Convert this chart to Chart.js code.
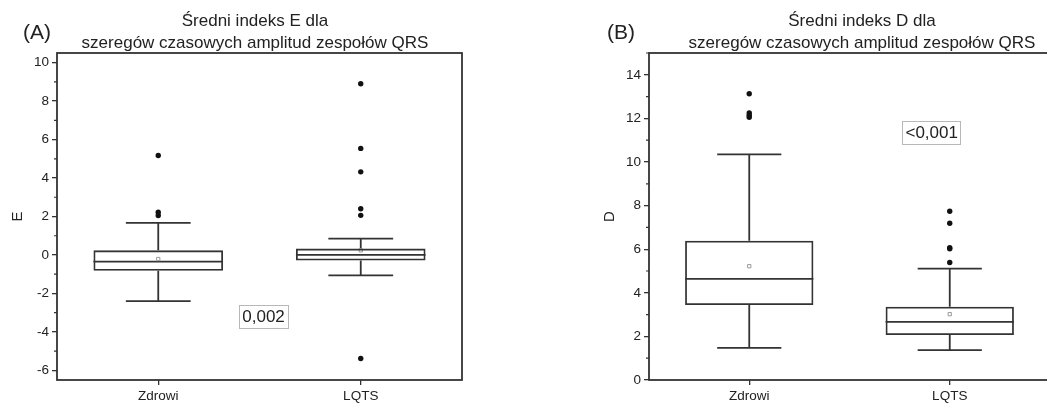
<!DOCTYPE html>
<html>
<head>
<meta charset="utf-8">
<script src="https://cdn.jsdelivr.net/npm/chart.js@4.4.1/dist/chart.umd.min.js"></script>
<style>
html, body { margin: 0; padding: 0; background: #fff; overflow: hidden; }
body { width: 1047px; height: 404px; position: relative; font-family: "Liberation Sans", Arial, sans-serif; color: #222; }
canvas { position: absolute; top: 0; }
#chartA { left: 0; }
#chartB { left: 540px; }
.tag { position: absolute; font-size: 21px; line-height: 21px; }
.title { position: absolute; top: 10px; width: 520px; text-align: center; font-size: 17px; line-height: 22px; }
</style>
</head>
<body>
<canvas id="chartA" width="470" height="404"></canvas>
<canvas id="chartB" width="520" height="404"></canvas>
<div class="tag" style="left:23px; top:21px">(A)</div>
<div class="tag" style="left:607px; top:21px">(B)</div>
<div class="title" style="left:-5px">Średni indeks E dla<br>szeregów czasowych amplitud zespołów QRS</div>
<div class="title" style="left:602px">Średni indeks D dla<br>szeregów czasowych amplitud zespołów QRS</div>
<script>
const groups = ['Zdrowi', 'LQTS'];

// panel A - indeks E
const eQ1 = [-0.82, -0.29];
const eQ3 = [0.24, 0.33];
const eMedian = [-0.35, 0.0];
const eLow = [-2.4, -1.06];
const eHigh = [1.67, 0.85];
const eMean = [-0.21, 0.24];
const eOutZdrowi = [5.17, 2.22, 2.05];
const eOutLqts = [8.9, 5.54, 4.32, 2.4, 2.06, -5.38];

// panel B - indeks D
const dQ1 = [3.44, 2.06];
const dQ3 = [6.39, 3.36];
const dMedian = [4.64, 2.67];
const dLow = [1.47, 1.37];
const dHigh = [10.35, 5.11];
const dMean = [5.22, 3.02];
const dOutZdrowi = [13.13, 12.25, 12.15, 12.05];
const dOutLqts = [7.74, 7.19, 6.07, 6.02, 5.39];

Chart.defaults.font.family = '"Liberation Sans", Arial, sans-serif';
Chart.defaults.color = '#222';
const ink = '#333';

function boxParts(s) {
    return {
        id: 'boxParts',
        beforeDatasetsDraw(chart) {
            const {ctx, scales: {x, y}} = chart;
            const bars = chart.getDatasetMeta(0).data;
            ctx.save();
            ctx.strokeStyle = ink;
            ctx.lineWidth = 1.8;
            groups.forEach((g, i) => {
                const cx = x.getPixelForValue(i);
                const hw = bars[i].width / 2, cw = bars[i].width / 4;
                const yLo = y.getPixelForValue(s.low[i]);
                const yHi = y.getPixelForValue(s.high[i]);
                const yQ1 = y.getPixelForValue(s.q1[i]);
                const yQ3 = y.getPixelForValue(s.q3[i]);
                const yMed = y.getPixelForValue(s.median[i]);
                ctx.beginPath();
                ctx.moveTo(cx, yQ3); ctx.lineTo(cx, yHi);
                ctx.moveTo(cx - cw, yHi); ctx.lineTo(cx + cw, yHi);
                ctx.moveTo(cx, yQ1); ctx.lineTo(cx, yLo);
                ctx.moveTo(cx - cw, yLo); ctx.lineTo(cx + cw, yLo);
                ctx.moveTo(cx - hw, yMed); ctx.lineTo(cx + hw, yMed);
                ctx.stroke();
            });
            ctx.restore();
        },
        afterDraw(chart) {
            const {ctx, chartArea: a, scales: {x, y}} = chart;
            ctx.save();
            // frame
            ctx.strokeStyle = ink;
            ctx.lineWidth = 1.8;
            ctx.strokeRect(a.left, a.top, a.right - a.left, a.bottom - a.top);
            // minor ticks
            ctx.lineWidth = 1.2;
            ctx.beginPath();
            for (let v = Math.ceil(y.min); v <= Math.floor(y.max); v++) {
                if (Math.abs(v % 2) !== 1) continue;
                const py = y.getPixelForValue(v);
                ctx.moveTo(a.left - 3, py); ctx.lineTo(a.left, py);
            }
            ctx.stroke();
            // p-value label
            const px = x.getPixelForValue(s.pAt.x);
            const py = y.getPixelForValue(s.pAt.y);
            ctx.font = '17px "Liberation Sans", Arial, sans-serif';
            const w = ctx.measureText(s.pText).width + 6;
            ctx.fillStyle = '#fff';
            ctx.fillRect(px - w / 2, py - 11.5, w, 23);
            ctx.lineWidth = 1;
            ctx.strokeStyle = '#b8b8b8';
            ctx.strokeRect(Math.round(px - w / 2) + 0.5, Math.round(py - 11.5) + 0.5, Math.round(w), 23);
            ctx.fillStyle = '#222';
            ctx.textAlign = 'center';
            ctx.textBaseline = 'middle';
            ctx.fillText(s.pText, px, py + 1);
            ctx.restore();
        }
    };
}

function boxChart(id, s) {
    const outliers = [
        ...s.outZdrowi.map(v => ({x: groups[0], y: v})),
        ...s.outLqts.map(v => ({x: groups[1], y: v}))
    ];
    return new Chart(document.getElementById(id), {
        type: 'bar',
        data: {
            labels: groups,
            datasets: [{
                label: 'box',
                data: groups.map((g, i) => [s.q1[i], s.q3[i]]),
                backgroundColor: 'rgba(0,0,0,0)',
                borderColor: ink,
                borderWidth: 1.8,
                borderSkipped: false,
                barPercentage: 0.64,
                categoryPercentage: 1
            }, {
                type: 'line',
                label: 'mean',
                data: s.mean,
                showLine: false,
                pointStyle: 'rect',
                pointRadius: 2.3,
                pointBackgroundColor: '#fff',
                pointBorderColor: '#999',
                pointBorderWidth: 1
            }, {
                type: 'line',
                label: 'outliers',
                data: outliers,
                showLine: false,
                pointStyle: 'circle',
                pointRadius: 2.7,
                pointBackgroundColor: '#111',
                pointBorderColor: '#111',
                pointBorderWidth: 0
            }]
        },
        options: {
            responsive: false,
            animation: false,
            layout: {padding: {left: 0, right: s.padRight, top: 53, bottom: 0}},
            plugins: {
                legend: {display: false},
                tooltip: {enabled: false}
            },
            scales: {
                x: {
                    offset: true,
                    grid: {offset: false, drawOnChartArea: false, tickLength: 5, color: ink, lineWidth: 1.3},
                    border: {display: false},
                    ticks: {font: {size: 13.5}, color: '#222', padding: 3},
                    afterFit(sc) { sc.height = 24; }
                },
                y: {
                    min: s.min,
                    max: s.max,
                    grid: {drawOnChartArea: false, tickLength: 5, color: ink, lineWidth: 1.3},
                    border: {display: false},
                    ticks: {stepSize: 2, includeBounds: false, font: {size: 13.5}, color: '#222', padding: 3},
                    title: {display: true, text: s.axisTitle, font: {size: 15}, color: '#222', padding: {top: s.titlePad}},
                    afterFit(sc) { sc.width = s.axisWidth; }
                }
            }
        },
        plugins: [boxParts(s)]
    });
}

boxChart('chartA', {
    axisTitle: 'E', min: -6.5, max: 10.5,
    q1: eQ1, q3: eQ3, median: eMedian, low: eLow, high: eHigh, mean: eMean,
    outZdrowi: eOutZdrowi, outLqts: eOutLqts,
    pText: '0,002', pAt: {x: 0.52, y: -3.21},
    padRight: 8, axisWidth: 57, titlePad: 9
});

boxChart('chartB', {
    axisTitle: 'D', min: 0, max: 15,
    q1: dQ1, q3: dQ3, median: dMedian, low: dLow, high: dHigh, mean: dMean,
    outZdrowi: dOutZdrowi, outLqts: dOutLqts,
    pText: '<0,001', pAt: {x: 0.91, y: 11.34},
    padRight: 10, axisWidth: 109, titlePad: 61
});
</script>
</body>
</html>
